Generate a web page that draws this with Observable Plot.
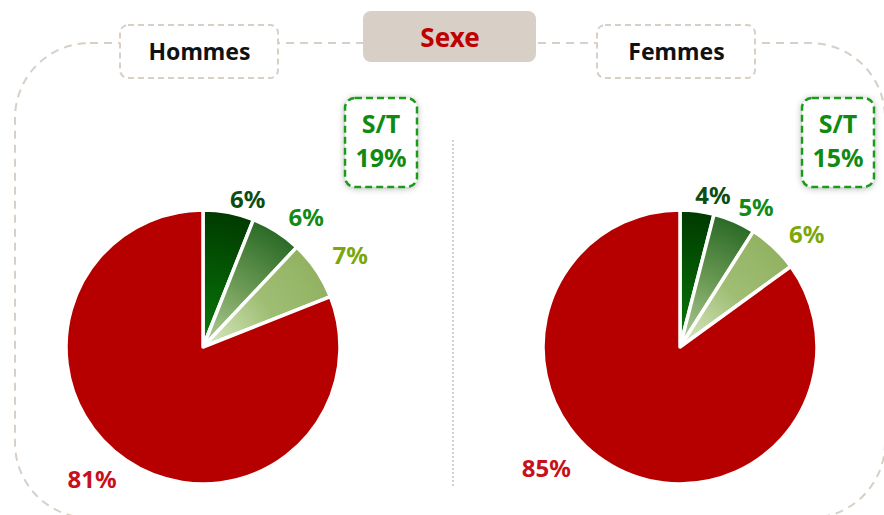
<!DOCTYPE html>
<html>
<head>
<meta charset="utf-8">
<script src="https://cdn.jsdelivr.net/npm/d3@7"></script>
<script src="https://cdn.jsdelivr.net/npm/@observablehq/plot@0.6"></script>
<style>
  html, body { margin: 0; padding: 0; background: #fff; }
  #chart svg { display: block; }
</style>
</head>
<body>
<div id="chart"></div>
<script>
// ---- data ----
const groupTitle = "Sexe";
const sexes = ["Hommes", "Femmes"];
const segments = ["Très satisfait", "Satisfait", "Plutôt satisfait", "Autre"];
const hommesValues = [6, 6, 7, 81];
const femmesValues = [4, 5, 6, 85];
const stLabel = "S/T";
const stValues = [19, 15];

// ---- style / layout ----
const W = 884, H = 515;
const pieCY = 347, pieR = 137;
const font = "'Noto Sans', 'Open Sans', sans-serif";
const labelColors = ["#0d4d12", "#128a16", "#7aa80a", "#c8101a"];
const gradStops = [
  [["0", "#0a7a0a"], ["1", "#003a00"]],
  [["0", "#b4d09a"], ["0.5", "#6e9c56"], ["1", "#2a6a26"]],
  [["0", "#dceac6"], ["0.55", "#9fbe74"], ["1", "#92b262"]],
];
const redFill = "#b60000";
const beige = "#d8cfc6";
const stGreen = "#1a9a1a";
const labelAngleOffset = [[6, 6, 2, 6], [5, 5, 5, 21]];
const labelRadius = [[155, 166, 174, 172], [156, 160, 170, 180]];
const stOffset = [178, 158];

const valuesBySex = [hommesValues, femmesValues];

function decorations(index, scales, values, dimensions) {
  const g = d3.create("svg:g");
  const defs = g.append("defs");
  const f = defs.append("filter").attr("id", "stshadow")
    .attr("x", "-30%").attr("y", "-30%").attr("width", "160%").attr("height", "160%");
  f.append("feDropShadow").attr("dx", 0).attr("dy", 1).attr("stdDeviation", 3)
    .attr("flood-color", "#000").attr("flood-opacity", 0.28);

  // outer dashed frame
  g.append("rect").attr("x", 15).attr("y", 43).attr("width", 870).attr("height", 475)
    .attr("rx", 75).attr("fill", "none").attr("stroke", beige).attr("stroke-width", 2)
    .attr("stroke-dasharray", "8,6");

  // dotted separator
  g.append("line").attr("x1", 453).attr("x2", 453).attr("y1", 140).attr("y2", 486)
    .attr("stroke", beige).attr("stroke-width", 2).attr("stroke-dasharray", "2,2");

  // group header box
  g.append("rect").attr("x", 363).attr("y", 11).attr("width", 173).attr("height", 51)
    .attr("rx", 8).attr("fill", beige);
  g.append("text").attr("x", 450).attr("y", 37).attr("text-anchor", "middle")
    .attr("dominant-baseline", "central").attr("font-family", font).attr("font-weight", "bold")
    .attr("font-size", 26).attr("fill", "#c00000").text(groupTitle);

  sexes.forEach((s, si) => {
    const cx = scales.x(s);
    // title box
    g.append("rect").attr("x", cx - 83).attr("y", 25).attr("width", 158).attr("height", 53)
      .attr("rx", 8).attr("fill", "#fff").attr("stroke", beige).attr("stroke-width", 2)
      .attr("stroke-dasharray", "6,4");

    // S/T box
    const sx = cx + stOffset[si];
    g.append("rect").attr("x", sx - 36).attr("y", 98).attr("width", 72).attr("height", 89)
      .attr("rx", 10).attr("fill", "#fff").attr("stroke", stGreen).attr("stroke-width", 2.5)
      .attr("stroke-dasharray", "7,4").attr("filter", "url(#stshadow)");
    g.append("text").attr("x", sx).attr("y", 123).attr("text-anchor", "middle")
      .attr("dominant-baseline", "central").attr("font-family", font).attr("font-weight", "bold")
      .attr("font-size", 25).attr("fill", "#118a11").text(stLabel);
    g.append("text").attr("x", sx).attr("y", 157).attr("text-anchor", "middle")
      .attr("dominant-baseline", "central").attr("font-family", font).attr("font-weight", "bold")
      .attr("font-size", 25).attr("fill", "#118a11").text(stValues[si] + "%");

    // gradients (in the pie's local coordinates)
    gradStops.forEach((stops, k) => {
      const rg = defs.append("radialGradient").attr("id", `grad-${si}-${k}`)
        .attr("gradientUnits", "userSpaceOnUse").attr("cx", 0).attr("cy", 0).attr("r", pieR);
      stops.forEach(([o, c]) => rg.append("stop").attr("offset", o).attr("stop-color", c));
    });

    const arcs = d3.pie().sort(null).value(d => d)(valuesBySex[si]);
    const arc = d3.arc().innerRadius(0).outerRadius(pieR);
    const pg = g.append("g").attr("transform", `translate(${cx},${pieCY})`);
    arcs.forEach((a, k) => {
      pg.append("path").attr("d", arc(a))
        .attr("fill", k < 3 ? `url(#grad-${si}-${k})` : redFill)
        .attr("stroke", "#fff").attr("stroke-width", 3.5).attr("stroke-linejoin", "round");
    });
    arcs.forEach((a, k) => {
      const ang = (a.startAngle + a.endAngle) / 2 + labelAngleOffset[si][k] * Math.PI / 180;
      const r = labelRadius[si][k];
      pg.append("text").attr("x", r * Math.sin(ang)).attr("y", -r * Math.cos(ang))
        .attr("text-anchor", "middle").attr("dominant-baseline", "central")
        .attr("font-family", font).attr("font-weight", "bold").attr("font-size", 24)
        .attr("fill", labelColors[k]).text(a.data + "%");
    });
  });
  return g.node();
}

const chart = Plot.plot({
  width: W,
  height: H,
  margin: 0,
  x: { type: "point", domain: sexes, range: [203, 680], padding: 0, axis: null },
  style: { background: "#fff" },
  marks: [
    decorations,
    Plot.text(sexes, {
      x: d => d,
      frameAnchor: "top",
      dx: -4,
      dy: 52,
      text: d => d,
      fontFamily: font,
      fontWeight: "bold",
      fontSize: 23,
      fill: "#111",
      lineAnchor: "middle"
    })
  ]
});
document.getElementById("chart").appendChild(chart);
</script>
</body>
</html>
